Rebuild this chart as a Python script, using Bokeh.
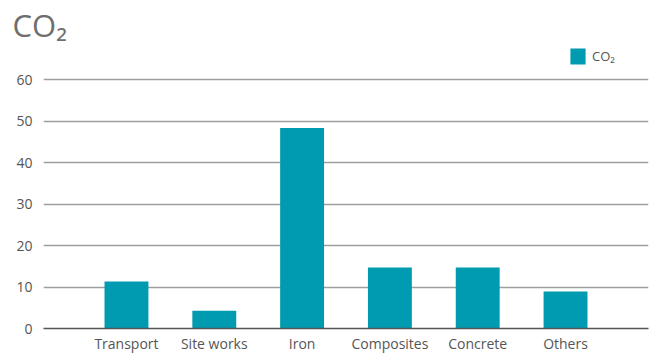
from bokeh.plotting import figure
from bokeh.models import (Range1d, FixedTicker, Legend, LegendItem, Title,
                          ColumnDataSource)
from bokeh.embed import file_html
from bokeh.resources import INLINE

categories = ["Transport", "Site works", "Iron", "Composites", "Concrete", "Others"]
co2_values = [11.3, 4.3, 48.3, 14.7, 14.7, 8.9]
y_ticks = [0, 10, 20, 30, 40, 50, 60]

FONT = "Open Sans"
TEXT_COLOR = "#555555"
BAR_COLOR = "#009bb0"

xs = list(range(len(categories)))
src = ColumnDataSource(dict(x=xs, top=co2_values, cat=categories))

FRAME_TOP = 46
px_per_unit = 249 / 60
y_top = 60 + (79 - FRAME_TOP) / px_per_unit

p = figure(width=653, height=355, output_backend="svg", toolbar_location=None,
           x_range=Range1d(-0.945, len(categories) - 1 + 0.945),
           y_range=Range1d(0, y_top),
           min_border_left=43, min_border_right=5, min_border_top=FRAME_TOP,
           min_border_bottom=27)
p.outline_line_color = None
p.background_fill_color = "white"
p.border_fill_color = "white"

p.title = Title(text="CO₂", align="left", offset=-31, standoff=2,
                text_font=FONT, text_font_size="31px",
                text_font_style="normal", text_color="#6e6e6e")

r = p.vbar(x="x", top="top", width=0.5, bottom=0, source=src,
           fill_color=BAR_COLOR, line_color=None)

# axes
p.xaxis.ticker = FixedTicker(ticks=xs)
p.xaxis.major_label_overrides = {i: c for i, c in zip(xs, categories)}
p.xaxis.axis_line_color = "#555555"
p.xaxis.axis_line_width = 1.5
p.xaxis.major_tick_line_color = None
p.xaxis.minor_tick_line_color = None
p.xaxis.major_tick_out = 0
p.xaxis.major_tick_in = 0
p.xaxis.major_label_standoff = 5
p.xaxis.major_label_text_font = FONT
p.xaxis.major_label_text_font_size = "14px"
p.xaxis.major_label_text_color = TEXT_COLOR

p.yaxis.ticker = FixedTicker(ticks=y_ticks)
p.yaxis.axis_line_color = None
p.yaxis.major_tick_line_color = None
p.yaxis.minor_tick_line_color = None
p.yaxis.major_tick_out = 0
p.yaxis.major_tick_in = 0
p.yaxis.major_label_standoff = 11
p.yaxis.major_label_text_font = FONT
p.yaxis.major_label_text_font_size = "14px"
p.yaxis.major_label_text_color = TEXT_COLOR

p.xgrid.grid_line_color = None
p.ygrid.ticker = FixedTicker(ticks=y_ticks[1:])
p.ygrid.grid_line_color = "#9e9e9e"
p.ygrid.grid_line_width = 1.5

# legend (location = bottom-left corner, relative to the frame)
legend = Legend(items=[LegendItem(label="CO₂", renderers=[r])],
                location=(525, 328 - 66), orientation="vertical",
                padding=0, margin=0, spacing=0,
                glyph_width=19, glyph_height=20, label_height=20,
                label_standoff=5, border_line_color=None,
                background_fill_alpha=0,
                label_text_font=FONT, label_text_font_size="13px",
                label_text_color=TEXT_COLOR)
p.add_layout(legend, "center")

open("out.html", "w").write(file_html(p, INLINE))
